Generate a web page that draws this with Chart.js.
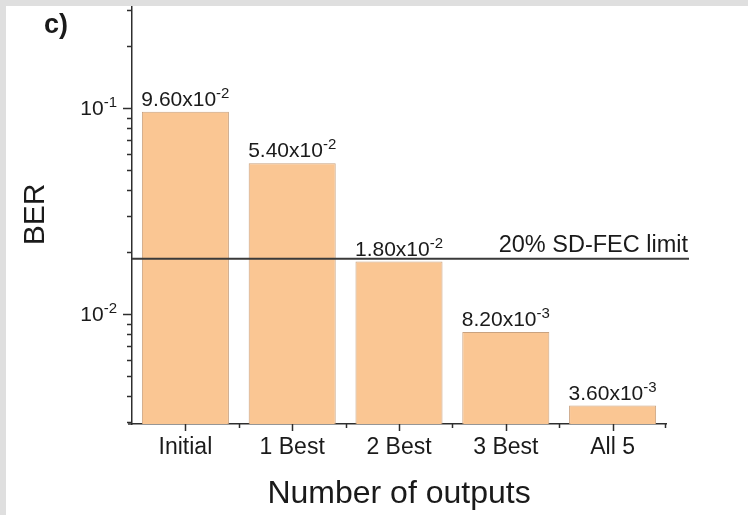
<!DOCTYPE html>
<html><head><meta charset="utf-8">
<script src="https://cdn.jsdelivr.net/npm/chart.js@4.4.0/dist/chart.umd.min.js"></script>
<style>
html,body{margin:0;padding:0;background:#dfdfdf;width:748px;height:515px;overflow:hidden}
#wrap{position:absolute;left:6px;top:6px;width:742px;height:509px;background:#fff}
canvas{display:block}
</style></head><body>
<div id="wrap"><canvas id="c" width="742" height="509"></canvas></div>
<script>
const categories = ['Initial', '1 Best', '2 Best', '3 Best', 'All 5'];
const berValues = [9.6e-2, 5.4e-2, 1.8e-2, 8.2e-3, 3.6e-3];
const berLabelMantissa = ['9.60', '5.40', '1.80', '8.20', '3.60'];
const berLabelExponent = ['-2', '-2', '-2', '-3', '-3'];
const fecLimit = 0.0186;
const fecLabel = '20% SD-FEC limit';
const yMajorTicks = [0.1, 0.01];
const yMajorTickBase = ['10', '10'];
const yMajorTickExp = ['-1', '-2'];
const yMinorTicks = [0.003, 0.004, 0.005, 0.006, 0.007, 0.008, 0.009,
                     0.02, 0.03, 0.04, 0.05, 0.06, 0.07, 0.08, 0.09, 0.2, 0.3];
const yMin = 0.00293, yMax = 0.31;
const panelLabel = 'c)';
const xTitle = 'Number of outputs';
const yTitle = 'BER';

const FONT = '"Liberation Sans", Arial, Helvetica, sans-serif';
const TEXT = '#1a1a1a';
const AXIS = '#2e2e2e';

function drawSup(ctx, base, sup, x, y, baseSize, supSize, raise, align) {
  ctx.font = baseSize + 'px ' + FONT;
  const wb = ctx.measureText(base).width;
  ctx.font = supSize + 'px ' + FONT;
  const ws = ctx.measureText(sup).width;
  const total = wb + ws;
  let x0 = x;
  if (align === 'center') x0 = x - total / 2;
  else if (align === 'right') x0 = x - total;
  ctx.textAlign = 'left';
  ctx.textBaseline = 'alphabetic';
  ctx.font = baseSize + 'px ' + FONT;
  ctx.fillText(base, x0, y);
  ctx.font = supSize + 'px ' + FONT;
  ctx.fillText(sup, x0 + wb, y - raise);
}

const decor = {
  id: 'decor',
  afterDatasetsDraw(chart) {
    const ctx = chart.ctx, ys = chart.scales.y, area = chart.chartArea;
    const py = ys.getPixelForValue(fecLimit);
    ctx.save();
    ctx.strokeStyle = '#3a3a3a';
    ctx.lineWidth = 2;
    ctx.beginPath();
    ctx.moveTo(area.left, py);
    ctx.lineTo(area.right + 23, py);
    ctx.stroke();
    ctx.fillStyle = TEXT;
    ctx.font = '23.5px ' + FONT;
    ctx.textAlign = 'right';
    ctx.textBaseline = 'alphabetic';
    ctx.fillText(fecLabel, area.right + 22, py - 7);
    ctx.restore();
  },
  afterDraw(chart) {
    const ctx = chart.ctx, ys = chart.scales.y, xs = chart.scales.x, area = chart.chartArea;
    ctx.save();
    ctx.strokeStyle = AXIS;
    ctx.lineWidth = 1.5;
    // y ticks
    yMajorTicks.forEach(v => {
      const p = Math.round(ys.getPixelForValue(v)) + 0.5;
      ctx.beginPath(); ctx.moveTo(area.left - 9, p); ctx.lineTo(area.left, p); ctx.stroke();
    });
    yMinorTicks.forEach(v => {
      const p = Math.round(ys.getPixelForValue(v)) + 0.5;
      ctx.beginPath(); ctx.moveTo(area.left - 5, p); ctx.lineTo(area.left, p); ctx.stroke();
    });
    // x ticks
    categories.forEach((c, i) => {
      const p = Math.round(xs.getPixelForValue(i)) + 0.5;
      ctx.beginPath(); ctx.moveTo(p, area.bottom); ctx.lineTo(p, area.bottom + 7); ctx.stroke();
      if (i > 0) {
        const b = Math.round((xs.getPixelForValue(i) + xs.getPixelForValue(i - 1)) / 2) + 0.5;
        ctx.beginPath(); ctx.moveTo(b, area.bottom); ctx.lineTo(b, area.bottom + 4); ctx.stroke();
      }
    });
    const lastB = Math.round(area.right) - 0.5;
    ctx.beginPath(); ctx.moveTo(lastB, area.bottom); ctx.lineTo(lastB, area.bottom + 4); ctx.stroke();
    ctx.beginPath(); ctx.moveTo(area.left - 4, area.bottom); ctx.lineTo(area.left, area.bottom); ctx.stroke();

    ctx.fillStyle = TEXT;
    // y tick labels
    yMajorTicks.forEach((v, i) => {
      const p = ys.getPixelForValue(v);
      drawSup(ctx, yMajorTickBase[i], yMajorTickExp[i], area.left - 15, p + 7, 21, 15, 8, 'right');
    });
    // bar value labels
    const meta = chart.getDatasetMeta(0);
    meta.data.forEach((bar, i) => {
      drawSup(ctx, berLabelMantissa[i] + 'x10', berLabelExponent[i], bar.x, bar.y - 6, 21, 15, 8, 'center');
    });
    // titles
    ctx.font = '32px ' + FONT;
    ctx.textAlign = 'center';
    ctx.textBaseline = 'alphabetic';
    ctx.fillText(xTitle, (area.left + area.right) / 2, 497);
    ctx.save();
    ctx.translate(38, (area.top + area.bottom) / 2 - 1);
    ctx.rotate(-Math.PI / 2);
    ctx.font = '30px ' + FONT;
    ctx.fillText(yTitle, 0, 0);
    ctx.restore();
    ctx.font = 'bold 27px ' + FONT;
    ctx.textAlign = 'left';
    ctx.fillText(panelLabel, 38, 27);
    ctx.restore();
  }
};

new Chart(document.getElementById('c'), {
  type: 'bar',
  data: {
    labels: categories,
    datasets: [{
      data: berValues,
      backgroundColor: '#fac693',
      borderColor: '#c9a27f',
      borderWidth: 1,
      categoryPercentage: 1,
      barPercentage: 0.815
    }]
  },
  options: {
    responsive: false,
    animation: false,
    devicePixelRatio: 1,
    layout: { padding: { top: 1, right: 82, left: 0, bottom: 0 } },
    plugins: { legend: { display: false }, tooltip: { enabled: false } },
    scales: {
      x: {
        type: 'category',
        grid: { display: false, drawTicks: false },
        border: { display: true, color: AXIS, width: 1.5 },
        ticks: { color: TEXT, font: { family: FONT, size: 23 }, padding: 10, maxRotation: 0, autoSkip: false },
        afterFit: s => { s.height = 91; }
      },
      y: {
        type: 'logarithmic',
        min: yMin, max: yMax,
        grid: { display: false, drawTicks: false },
        border: { display: true, color: AXIS, width: 1.5 },
        ticks: { display: false },
        afterFit: s => { s.width = 126; }
      }
    }
  },
  plugins: [decor]
});
</script>
</body></html>
